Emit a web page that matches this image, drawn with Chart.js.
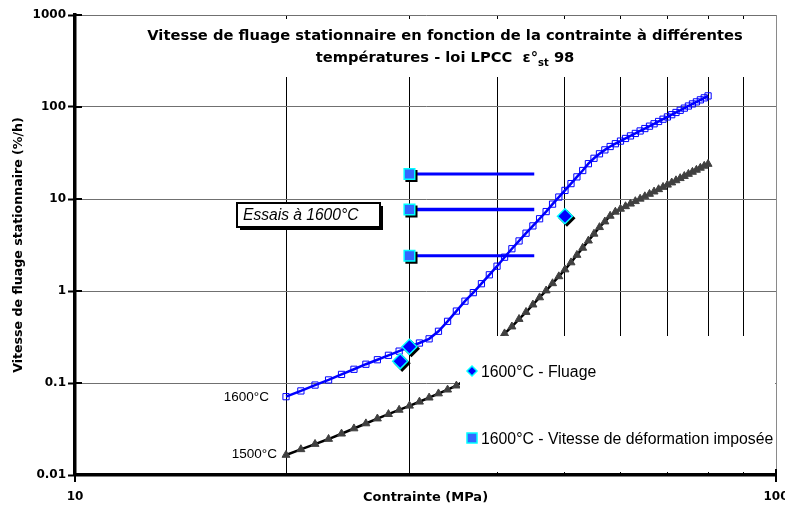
<!DOCTYPE html>
<html>
<head>
<meta charset="utf-8">
<title>Vitesse de fluage stationnaire</title>
<script src="https://cdn.jsdelivr.net/npm/chart.js@4.4.1/dist/chart.umd.min.js"></script>
<style>
  html, body { margin: 0; padding: 0; background: #fff; }
  canvas { display: block; }
</style>
</head>
<body>
<canvas id="graficoFluage" width="785" height="506"></canvas>
<script>
// contrainte (MPa) des courbes de la loi LPCC
var contrainte = [20, 21, 22, 23, 24, 25, 26, 27, 28, 29,
    30, 31, 32, 33, 34, 35, 36, 37, 38, 39,
    40, 41, 42, 43, 44, 45, 46, 47, 48, 49,
    50, 51, 52, 53, 54, 55, 56, 57, 58, 59,
    60, 61, 62, 63, 64, 65, 66, 67, 68, 69,
    70, 71, 72, 73, 74, 75, 76, 77, 78, 79, 80];

// vitesse (%/h) a 1600°C
var vitesse1600 = [0.071, 0.082, 0.095, 0.108, 0.124, 0.141, 0.160, 0.179, 0.200, 0.222,
    0.247, 0.272, 0.302, 0.365, 0.468, 0.605, 0.775, 0.96, 1.2, 1.5,
    1.86, 2.33, 2.88, 3.5, 4.25, 5.1, 6.1, 7.3, 8.8, 10.5,
    12.4, 14.7, 17.4, 20.4, 24.2, 27.7, 31.0, 34.2, 37.2, 39.9,
    42.6, 45.5, 48.5, 51.6, 54.9, 58.3, 61.9, 65.7, 69.6, 73.7,
    78.0, 82.5, 87.2, 92.1, 97.2, 102.5, 108.0, 113.7, 119.6, 125.7, 132];

// vitesse (%/h) a 1500°C
var vitesse1500 = [0.0165, 0.0190, 0.0217, 0.0246, 0.0281, 0.0320, 0.0363, 0.0410, 0.0458, 0.0510,
    0.0565, 0.0625, 0.0692, 0.0768, 0.0845, 0.0935, 0.108, 0.140, 0.183, 0.232,
    0.284, 0.345, 0.41, 0.495, 0.59, 0.71, 0.85, 1.01, 1.21, 1.44,
    1.71, 2.04, 2.46, 2.94, 3.52, 4.18, 4.93, 5.68, 6.55, 7.25,
    7.8, 8.32, 8.87, 9.44, 10.04, 10.67, 11.33, 12.01, 12.73, 13.48,
    14.26, 15.07, 15.92, 16.80, 17.72, 18.68, 19.67, 20.70, 21.77, 22.88, 24.0];

// essais de fluage a 1600°C
var contrainteFluage = [29.1, 30, 50];
var vitesseFluage = [0.172, 0.248, 6.5];

// essais a vitesse de deformation imposee a 1600°C
var contrainteImposee = [30, 30, 30];
var vitesseImposee = [18.7, 7.7, 2.42];
var contrainteImposeeFin = 45.2;

var ticksX = [10, 20, 30, 40, 50, 60, 70, 80, 90, 100];
var ticksY = [0.01, 0.1, 1, 10, 100, 1000];

var legendeFluage = '1600°C - Fluage';
var legendeImposee = '1600°C - Vitesse de déformation imposée';

var BOLD = '"DejaVu Sans", sans-serif';
var ARIAL = '"Liberation Sans", Arial, sans-serif';

function pontos(xs, ys) {
    var out = [];
    for (var i = 0; i < xs.length; i++) {
        out.push({x: xs[i], y: ys[i]});
    }
    return out;
}

function marqueurs(label, xs, ys, style, fond, bord, ordre, decale) {
    return {
        label: label,
        data: pontos(xs, ys),
        showLine: false,
        pointStyle: style,
        pointRadius: 7.5,
        pointBackgroundColor: fond,
        pointBorderColor: bord,
        pointBorderWidth: 1.5,
        decale: decale,
        order: ordre
    };
}

var datasets = [
    marqueurs(legendeFluage, contrainteFluage, vitesseFluage, 'rectRot', '#0000FF', '#00FFFF', 0, false),
    marqueurs('ombre fluage', contrainteFluage, vitesseFluage, 'rectRot', '#000', '#000', 1, true),
    marqueurs(legendeImposee, contrainteImposee, vitesseImposee, 'rect', '#3366FF', '#00FFFF', 2, false),
    marqueurs('ombre imposee', contrainteImposee, vitesseImposee, 'rect', '#000', '#000', 3, true),
    {
        label: '1600°C',
        data: pontos(contrainte, vitesse1600),
        borderColor: '#0000FF',
        borderWidth: 2.5,
        pointStyle: 'rect',
        pointRadius: 4.4,
        pointBackgroundColor: 'rgba(255,255,255,0)',
        pointBorderColor: '#0000FF',
        pointBorderWidth: 1,
        order: 4
    },
    {
        label: '1500°C',
        data: pontos(contrainte, vitesse1500),
        borderColor: '#000000',
        borderWidth: 2.5,
        pointStyle: 'triangle',
        pointRadius: 4.6,
        pointBackgroundColor: '#404040',
        pointBorderColor: '#404040',
        pointBorderWidth: 1,
        order: 5
    }
];

// segments horizontaux partant de chaque essai impose
var largeurs = [3, 3.5, 3];
for (var k = 0; k < vitesseImposee.length; k++) {
    datasets.push({
        label: 'segment' + k,
        data: [{x: contrainteImposee[k], y: vitesseImposee[k]}, {x: contrainteImposeeFin, y: vitesseImposee[k]}],
        borderColor: '#0000FF',
        borderWidth: largeurs[k],
        pointRadius: 0,
        order: 6
    });
}

// les ombres sont les memes marqueurs en noir, decales de 2 px
var ombre = {
    id: 'ombre',
    beforeDatasetDraw: function (chart, args) {
        var ds = chart.data.datasets[args.index];
        chart.ctx.save();
        if (ds.decale) {
            chart.ctx.translate(2, 2);
        }
    },
    afterDatasetDraw: function (chart) {
        chart.ctx.restore();
    }
};

var decor = {
    id: 'decor',
    afterDatasetsDraw: function (chart) {
        var ctx = chart.ctx;
        var sx = chart.scales.x;
        var sy = chart.scales.y;
        ctx.save();

        // graduations qui traversent les axes
        ctx.strokeStyle = '#000';
        ctx.lineWidth = 2;
        ticksY.forEach(function (v) {
            var py = sy.getPixelForValue(v);
            ctx.beginPath();
            ctx.moveTo(75, py);
            ctx.lineTo(82, py);
            ctx.stroke();
        });
        [10, 100].forEach(function (v) {
            var px = sx.getPixelForValue(v);
            ctx.beginPath();
            ctx.moveTo(px, 469);
            ctx.lineTo(px, 482);
            ctx.stroke();
        });

        // titre
        ctx.fillStyle = '#fff';
        ctx.fillRect(140, 19, 625, 58);
        ctx.fillStyle = '#000';
        ctx.font = 'bold 14.7px ' + BOLD;
        ctx.textAlign = 'center';
        ctx.textBaseline = 'alphabetic';
        ctx.fillText('Vitesse de fluage stationnaire en fonction de la contrainte à différentes', 445, 40);
        ctx.textAlign = 'left';
        var t1 = 'températures - loi LPCC  ε°';
        var t3 = ' 98';
        var w1 = ctx.measureText(t1).width;
        var w3 = ctx.measureText(t3).width;
        ctx.font = 'bold 10px ' + BOLD;
        var w2 = ctx.measureText('st').width;
        var x = 445 - (w1 + w2 + w3) / 2;
        ctx.fillText('st', x + w1, 66);
        ctx.font = 'bold 14.7px ' + BOLD;
        ctx.fillText(t1, x, 62);
        ctx.fillText(t3, x + w1 + w2, 62);

        // etiquettes des courbes
        ctx.font = '13.5px ' + ARIAL;
        ctx.textAlign = 'right';
        ctx.textBaseline = 'middle';
        ctx.fillText('1600°C', sx.getPixelForValue(contrainte[0]) - 17, sy.getPixelForValue(vitesse1600[0]) + 1);
        ctx.fillText('1500°C', sx.getPixelForValue(contrainte[0]) - 9, sy.getPixelForValue(vitesse1500[0]) - 1);

        // cadre "Essais"
        ctx.fillStyle = '#000';
        ctx.fillRect(240, 206, 143, 24);
        ctx.fillStyle = '#fff';
        ctx.fillRect(237, 203, 143, 24);
        ctx.lineWidth = 2;
        ctx.strokeStyle = '#000';
        ctx.strokeRect(237, 203, 143, 24);
        ctx.fillStyle = '#000';
        ctx.font = 'italic 15.6px ' + ARIAL;
        ctx.textAlign = 'left';
        ctx.textBaseline = 'alphabetic';
        ctx.fillText('Essais à 1600°C', 243, 220);

        // legende
        ctx.fillStyle = '#fff';
        ctx.fillRect(460, 336, 315, 136);
        ctx.beginPath();
        ctx.moveTo(472 - 5, 371);
        ctx.lineTo(472, 371 - 5);
        ctx.lineTo(472 + 5, 371);
        ctx.lineTo(472, 371 + 5);
        ctx.closePath();
        ctx.fillStyle = '#0000FF';
        ctx.fill();
        ctx.strokeStyle = '#00FFFF';
        ctx.lineWidth = 1.5;
        ctx.stroke();
        ctx.fillStyle = '#3366FF';
        ctx.fillRect(467, 433, 10, 10);
        ctx.strokeRect(467, 433, 10, 10);
        ctx.fillStyle = '#000';
        ctx.font = '15.8px ' + ARIAL;
        ctx.fillText(legendeFluage, 481, 377);
        ctx.fillText(legendeImposee, 481, 444);

        ctx.restore();
    }
};

var graphTarget = document.getElementById('graficoFluage');

var chart = new Chart(graphTarget, {
    type: 'line',
    data: {datasets: datasets},
    plugins: [ombre, decor],
    options: {
        responsive: false,
        animation: false,
        events: [],
        layout: {padding: {top: 15, right: 9, left: 0, bottom: 0}},
        plugins: {
            legend: {display: false},
            tooltip: {enabled: false}
        },
        scales: {
            x: {
                type: 'logarithmic',
                min: 10,
                max: 100,
                afterBuildTicks: function (scale) {
                    scale.ticks = ticksX.map(function (v) { return {value: v}; });
                },
                afterFit: function (scale) {
                    scale.height = 31;
                    scale.paddingLeft = 0;
                    scale.paddingRight = 0;
                },
                grid: {
                    color: function (c) {
                        return c.tick && c.tick.value === 100 ? '#8a8a8a' : '#000';
                    },
                    lineWidth: 1,
                    drawTicks: false
                },
                border: {display: true, color: '#000', width: 3.5},
                ticks: {
                    autoSkip: false,
                    maxRotation: 0,
                    padding: 15,
                    color: '#000',
                    font: {family: BOLD, weight: 'bold', size: 12},
                    callback: function (v) {
                        return (v === 10 || v === 100) ? String(v) : '';
                    }
                },
                title: {
                    display: true,
                    text: 'Contrainte (MPa)',
                    color: '#000',
                    font: {family: BOLD, weight: 'bold', size: 13},
                    padding: {top: 0, bottom: 1}
                }
            },
            y: {
                type: 'logarithmic',
                min: 0.01,
                max: 1000,
                afterBuildTicks: function (scale) {
                    scale.ticks = ticksY.map(function (v) { return {value: v}; });
                },
                afterFit: function (scale) {
                    scale.width = 75;
                    scale.paddingTop = 0;
                    scale.paddingBottom = 0;
                },
                grid: {
                    color: '#707070',
                    lineWidth: 1,
                    drawTicks: true,
                    tickLength: 7,
                    tickColor: '#000',
                    tickWidth: 2
                },
                border: {display: true, color: '#000', width: 3.5},
                ticks: {
                    padding: 2,
                    color: '#000',
                    font: {family: BOLD, weight: 'bold', size: 12},
                    callback: function (v) {
                        return String(v);
                    }
                },
                title: {
                    display: true,
                    text: 'Vitesse de fluage stationnaire (%/h)',
                    color: '#000',
                    font: {family: BOLD, weight: 'bold', size: 12.6},
                    padding: {top: 11, bottom: 0}
                }
            }
        }
    }
});
</script>
</body>
</html>
